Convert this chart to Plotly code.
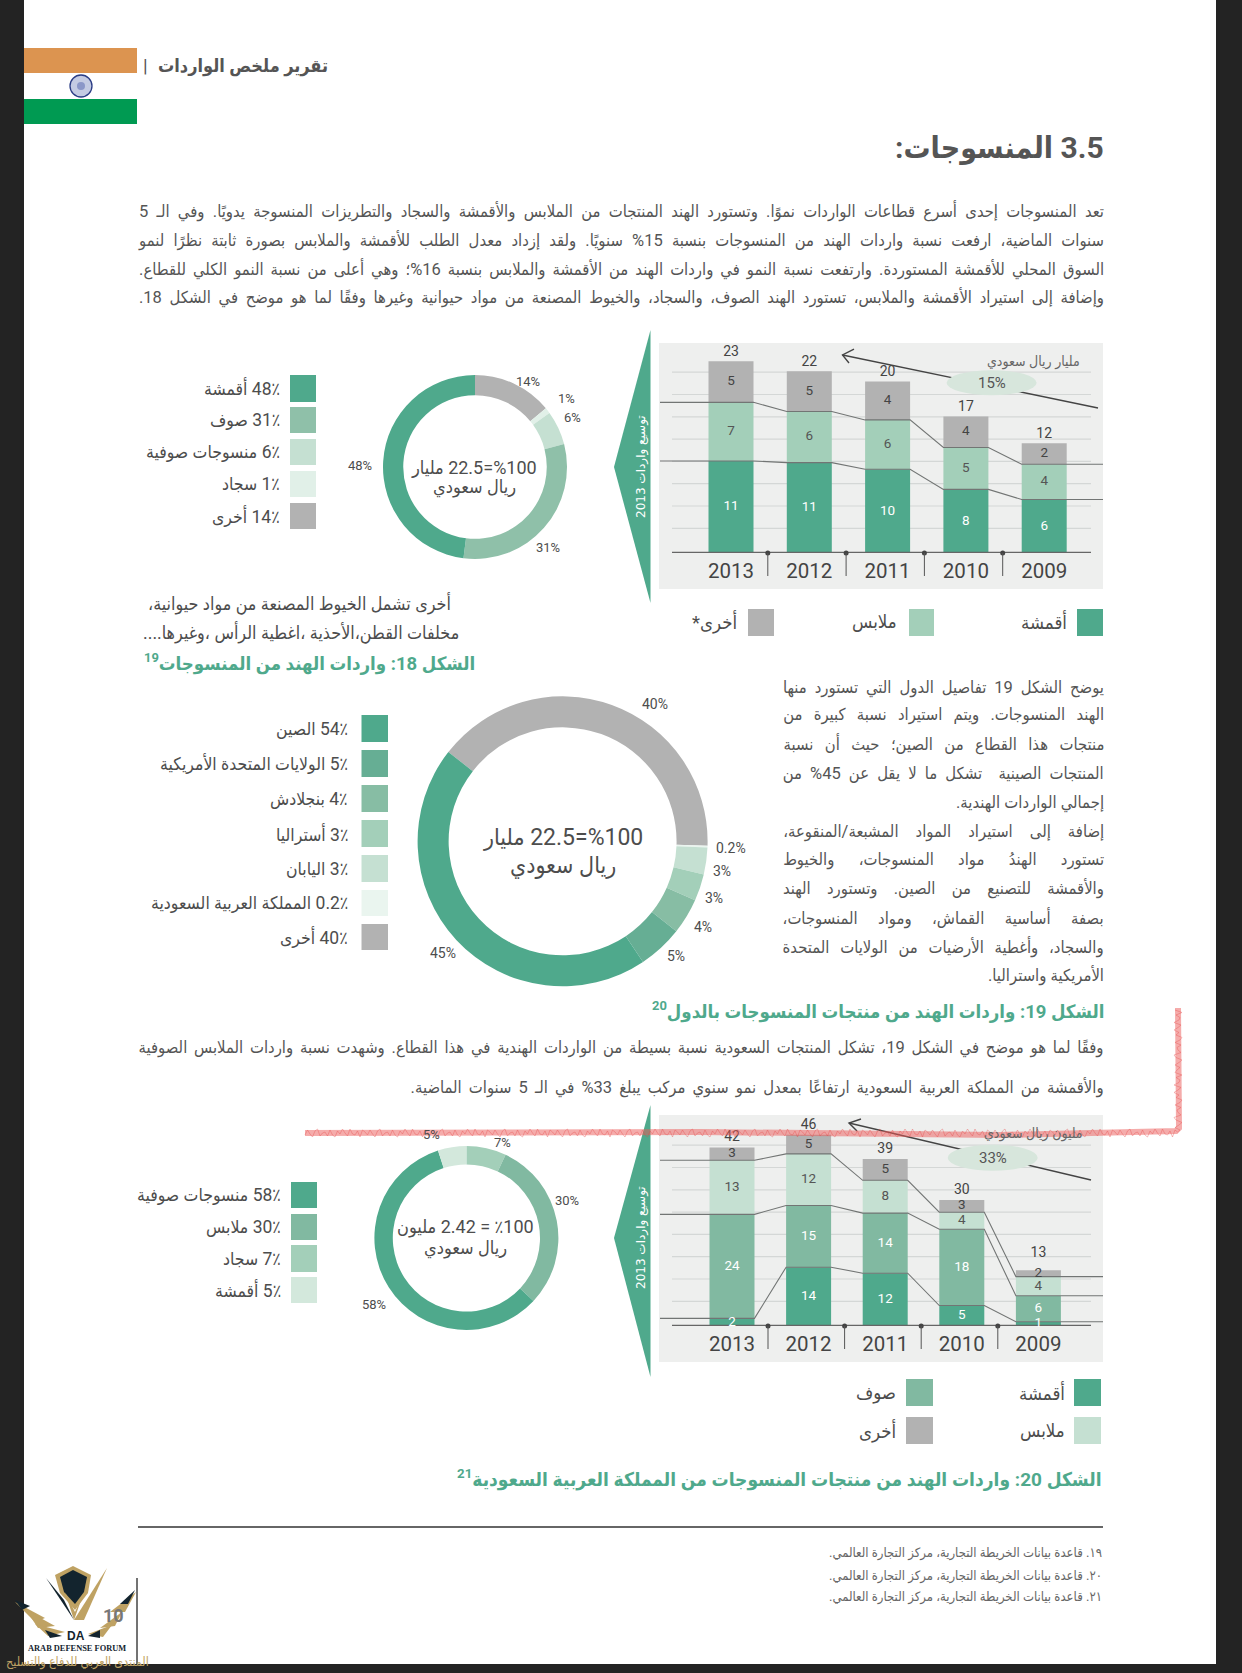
import json
import plotly.graph_objects as go

W, H = 1242, 1673
BODY = "Roboto, DejaVu Sans Condensed, DejaVu Sans"
NARROW = "Roboto, DejaVu Sans Condensed"
DARK, MID, LIGHT, GREY = "#4fa98c", "#a3cfb9", "#c5e0d2", "#b2b2b2"
MID2 = "#81b9a1"
TXT = "#4d4d4d"

# ---------- data ----------
years = ["2013", "2012", "2011", "2010", "2009"]

c18_fabric = [11.0, 10.8, 10.0, 7.6, 6.4]
c18_clothes = [7.0, 6.1, 5.9, 5.0, 4.2]
c18_other = [4.9, 4.8, 4.6, 3.7, 2.5]
c18_fabric_lbl = ["11", "11", "10", "8", "6"]
c18_clothes_lbl = ["7", "6", "6", "5", "4"]
c18_other_lbl = ["5", "5", "4", "4", "2"]
c18_total_lbl = ["23", "22", "20", "17", "12"]
c18_label_lift = [0.2, 0.2, 0.2, 0.2, 0.2]

c20_fabric = [1.8, 13.8, 12.4, 4.8, 1.0]
c20_wool = [24.4, 14.5, 14.1, 17.9, 6.1]
c20_clothes = [12.7, 12.1, 7.7, 4.0, 4.5]
c20_other = [3.0, 4.5, 5.0, 2.9, 1.5]
c20_fabric_lbl = ["2", "14", "12", "5", "1"]
c20_wool_lbl = ["24", "15", "14", "18", "6"]
c20_clothes_lbl = ["13", "12", "8", "4", "4"]
c20_other_lbl = ["3", "5", "5", "3", "2"]
c20_total_lbl = ["42", "46", "39", "30", "13"]
c20_label_lift = [0.6, 0.6, 0.6, 0.6, 2.2]

p1_values = [14, 1, 6, 31, 48]
p1_colors = [GREY, "#e1f0e8", LIGHT, "#8fc0a9", DARK]
p1_labels = ["14%", "1%", "6%", "31%", "48%"]
p2_values = [40, 0.2, 3, 3, 4, 5, 45]
p2_colors = [GREY, "#eaf5ef", LIGHT, MID, "#87bda4", "#66ae94", DARK]
p2_labels = ["40%", "0.2%", "3%", "3%", "4%", "5%", "45%"]
p3_values = [7, 30, 58, 5]
p3_colors = [MID, MID2, DARK, "#d3e8dc"]
p3_labels = ["7%", "30%", "58%", "5%"]

leg1_text = ["48٪ أقمشة", "31٪ صوف", "6٪ منسوجات صوفية", "1٪ سجاد", "14٪ أخرى"]
leg1_colors = [DARK, "#8fc0a9", LIGHT, "#e1f0e8", GREY]
leg2_text = ["54٪ الصين", "5٪ الولايات المتحدة الأمريكية", "4٪ بنجلادش", "3٪ أستراليا", "3٪ اليابان",
             "0.2٪ المملكة العربية السعودية", "40٪ أخرى"]
leg2_colors = [DARK, "#66ae94", "#87bda4", MID, LIGHT, "#eaf5ef", GREY]
leg3_text = ["58٪ منسوجات صوفية", "30٪ ملابس", "7٪ سجاد", "5٪ أقمشة"]
leg3_colors = [DARK, MID2, MID, "#d3e8dc"]

para1 = [
    "تعد المنسوجات إحدى أسرع قطاعات الواردات نموًا. وتستورد الهند المنتجات من الملابس والأقمشة والسجاد والتطريزات المنسوجة يدويًا. وفي الـ 5",
    "سنوات الماضية، ارفعت نسبة واردات الهند من المنسوجات بنسبة 15% سنويًا. ولقد إزداد معدل الطلب للأقمشة والملابس بصورة ثابتة نظرًا لنمو",
    "السوق المحلي للأقمشة المستوردة. وارتفعت نسبة النمو في واردات الهند من الأقمشة والملابس بنسبة 16%؛ وهي أعلى من نسبة النمو الكلي للقطاع.",
    "وإضافة إلى استيراد الأقمشة والملابس، تستورد الهند الصوف، والسجاد، والخيوط المصنعة من مواد حيوانية وغيرها وفقًا لما هو موضح في الشكل 18.",
]
para2 = [
    "يوضح الشكل 19 تفاصيل الدول التي تستورد منها",
    "الهند المنسوجات. ويتم استيراد نسبة كبيرة من",
    "منتجات هذا القطاع من الصين؛ حيث أن نسبة",
    "المنتجات الصينية  تشكل ما لا يقل عن 45% من",
    "إجمالي الواردات الهندية.",
    "إضافة إلى استيراد المواد المشبعة/المنقوعة،",
    "تستورد الهندُ مواد المنسوجات، والخيوط",
    "والأقمشة للتصنيع من الصين. وتستورد الهند",
    "بصفة أساسية القماش، ومواد المنسوجات،",
    "والسجاد، وأغطية الأرضيات من الولايات المتحدة",
    "الأمريكية واستراليا.",
]
para3 = [
    "وفقًا لما هو موضح في الشكل 19، تشكل المنتجات السعودية نسبة بسيطة من الواردات الهندية في هذا القطاع. وشهدت نسبة واردات الملابس الصوفية",
    "والأقمشة من المملكة العربية السعودية ارتفاعًا بمعدل نمو سنوي مركب يبلغ 33% في الـ 5 سنوات الماضية.",
]
footnotes = ["١٩. قاعدة بيانات الخريطة التجارية، مركز التجارة العالمي.",
             "٢٠. قاعدة بيانات الخريطة التجارية، مركز التجارة العالمي.",
             "٢١. قاعدة بيانات الخريطة التجارية، مركز التجارة العالمي."]


# ---------- helpers ----------
def px(x): return x / W
def py(y): return 1 - y / H
def path(points, close=True):
    s = "M " + " L ".join(f"{px(x):.5f},{py(y):.5f}" for x, y in points)
    return s + (" Z" if close else "")


shapes, notes, fits = [], [], []


def rect(x0, y0, x1, y1, color, layer="below"):
    shapes.append(dict(type="rect", xref="paper", yref="paper", x0=px(x0), x1=px(x1), y0=py(y0), y1=py(y1),
                       fillcolor=color, line=dict(width=0), layer=layer))


def poly(points, color, layer="below"):
    shapes.append(dict(type="path", xref="paper", yref="paper", path=path(points), fillcolor=color,
                       line=dict(width=0), layer=layer))


def stroke(points, color, width, layer="above"):
    shapes.append(dict(type="path", xref="paper", yref="paper", path=path(points, False),
                       line=dict(color=color, width=width), layer=layer))


def oval(cx, cy, rx, ry, fill, line=None, lw=0, layer="above"):
    shapes.append(dict(type="circle", xref="paper", yref="paper", x0=px(cx - rx), x1=px(cx + rx),
                       y0=py(cy + ry), y1=py(cy - ry), fillcolor=fill,
                       line=dict(color=line or fill, width=lw), layer=layer))


def T(x, y, s, size=14, color=TXT, anchor="right", family=BODY, bold=False, angle=0, rtl=True, fit=None):
    if rtl:
        s = "\u202b" + s + "\u202c"
    if bold:
        s = "<b>" + s + "</b>"
    if anchor == "right":
        x += 2.5
    notes.append(dict(xref="paper", yref="paper", x=px(x), y=py(y), text=s, showarrow=False, xanchor=anchor,
                      yanchor="middle", textangle=angle, font=dict(size=size, color=color, family=family)))
    if fit:
        fits.append([len(notes) - 1, fit])


# ---------- page ----------
rect(24, 0, 1216, 1664, "#ffffff")
rect(24, 48, 137, 73, "#dc9450")
rect(24, 99, 137, 124, "#009a52")
oval(81, 86, 11, 11, "#c4cbe3", "#2b3d85", 1.3, "below")
oval(81, 86, 4, 4, "#8b97c8", None, 0, "below")
T(327, 66, "تقرير ملخص الواردات", 18, "#555", bold=True)
T(145, 66, "|", 19, "#555", anchor="center", rtl=False)
T(1103, 148, "3.5 المنسوجات:", 30, "#555", bold=True)

for y, line in zip([211, 241, 269, 298], para1):
    T(1103, y, line, 16.5, "#555", fit=965)

# ---------- legends ----------
for (y0, y1), t, c in zip([(375, 402), (407, 433), (439, 465), (471, 497), (503, 529)], leg1_text, leg1_colors):
    rect(290, y0, 316, y1, c)
    T(279, (y0 + y1) / 2, t, 17.5)
for (y0, y1), t, c in zip([(715, 742), (750, 777), (785, 812), (820, 847), (855, 882), (890, 916), (924, 950)],
                          leg2_text, leg2_colors):
    rect(361.5, y0, 388, y1, c)
    T(348, (y0 + y1) / 2, t, 17.5)
for (y0, y1), t, c in zip([(1182, 1208), (1214, 1240), (1245, 1272), (1277, 1303)], leg3_text, leg3_colors):
    rect(291, y0, 317, y1, c)
    T(280, (y0 + y1) / 2, t, 17.5)

for x0, x1, tr, t, c in [(1077, 1103, 1066, "أقمشة", DARK), (909, 934, 896, "ملابس", MID), (748, 774, 736, "أخرى*", GREY)]:
    rect(x0, 609, x1, 636, c)
    T(tr, 622, t, 18.5)
for x0, x1, y0, tr, t, c in [(1074, 1101, 1379, 1064, "أقمشة", DARK), (906, 933, 1379, 895, "صوف", MID2),
                             (1074, 1101, 1417, 1064, "ملابس", LIGHT), (906, 933, 1417, 895, "أخرى", GREY)]:
    rect(x0, y0, x1, y0 + 27, c)
    T(tr, y0 + 14, t, 18.5)

# ---------- texts ----------
T(450, 603, "أخرى تشمل الخيوط المصنعة من مواد حيوانية،", 17.8)
T(458, 632, "مخلفات القطن،الأحذية ،اغطية الرأس ،وغيرها....", 17.8)
T(474.5, 663, "الشكل 18: واردات الهند من المنسوجات<sup>19</sup>", 18.5, DARK, bold=True)
for i, (y, line) in enumerate(zip([688, 715, 744, 773, 803, 832, 860, 888, 918, 947, 975], para2)):
    T(1103, y, line, 16.5, "#555", fit=None if i in (4, 10) else 321)
T(1103, 1010, "الشكل 19: واردات الهند من منتجات المنسوجات بالدول<sup>20</sup>", 18.5, DARK, bold=True)
for y, line, target in zip([1048, 1087], para3, [965, 693]):
    T(1103, y, line, 16.5, "#555", fit=target)
T(1101, 1478, "الشكل 20: واردات الهند من منتجات المنسوجات من المملكة العربية السعودية<sup>21</sup>", 19, DARK, bold=True)
stroke([(138, 1527), (1103, 1527)], "#666", 2, "below")
for y, line in zip([1553, 1576, 1597], footnotes):
    T(1101, y, line, 13, "#666")

# pie centres and labels
T(474.5, 467, "%100=22.5 مليار", 18, anchor="center")
T(474.5, 487, "ريال سعودي", 18, anchor="center")
T(562.6, 838, "%100=22.5 مليار", 23, anchor="center")
T(562.6, 865, "ريال سعودي", 23, anchor="center")
T(465, 1227, "٪100 = 2.42 مليون", 18, anchor="center")
T(465, 1248, "ريال سعودي", 18, anchor="center")
for (x, y), t in zip([(528, 382), (566.5, 398), (572.4, 418), (548, 547), (360, 465)], p1_labels):
    T(x, y, t, 13, anchor="center", family=NARROW, rtl=False)
for (x, y), t in zip([(655, 704), (731, 848), (721.5, 871), (713.7, 898), (703, 927), (675.6, 956), (443, 953)], p2_labels):
    T(x, y, t, 14, anchor="center", family=NARROW, rtl=False)
for (x, y), t in zip([(502.5, 1142), (567, 1200), (373.5, 1304), (431, 1134)], p3_labels):
    T(x, y, t, 13, anchor="center", family=NARROW, rtl=False)

# ---------- chart panels ----------
for top, bot, ptop, pbot, apex in [(330, 603, 343, 589, 467), (1105, 1377, 1115, 1362, 1238)]:
    rect(659, ptop, 1103, pbot, "#eeefee")
    poly([(614, apex), (650.5, top), (650.5, bot)], DARK)
    T(641, apex, "توسيع واردات 2013", 12, "#ffffff", anchor="center", angle=-90, family="DejaVu Sans")

for tip, end, elc, ery, head, label, unit_x, unit_y, unit in [
    ((842.5, 355), (1098, 408), (991.6, 382.7), 12.5, [(854, 349), (849, 363)], "15%", 1079, 361, "مليار ريال سعودي"),
    ((849, 1123), (1091, 1180), (992.7, 1157.7), 13, [(861, 1119), (857, 1131)], "33%", 1082, 1133, "مليون ريال سعودي"),
]:
    stroke([tip, end], "#444", 1.4)
    stroke([head[0], tip, head[1]], "#444", 1.4)
    oval(elc[0], elc[1], 45, ery, "#d7e6dc")
    T(elc[0], elc[1], label, 15, "#555", anchor="center", family=NARROW, rtl=False)
    T(unit_x, unit_y, unit, 14, "#666")


# ---------- bar charts ----------
fig = go.Figure()


def chart(suffix, x0px, x_step, scale, base_px, series, colors, series_lbl, lbl_colors, totals_lbl, lift, connect):
    xa, ya = "x" + suffix, "y" + suffix
    xs = list(range(len(years)))
    bw = 45 / x_step
    left, right = 660, 1103
    lo, hi = (left - x0px) / x_step, (right - x0px) / x_step
    line_lo, line_hi = (672 - x0px) / x_step, (1091 - x0px) / x_step
    top_px = base_px - 215
    yr = [0, 215 / scale]

    for k in range(8):
        v = (24.7 + 22.3 * k) / scale
        shapes.append(dict(type="line", xref="paper", yref=ya, x0=px(672), x1=px(1091), y0=v, y1=v,
                           line=dict(color="#d4d7d6", width=1.2), layer="below"))

    bottoms = [0] * len(xs)
    cums = []
    for vals, col in zip(series, colors):
        fig.add_trace(go.Bar(x=xs, y=vals, base=bottoms, width=bw, marker=dict(color=col, line=dict(width=0)),
                             xaxis=xa, yaxis=ya, showlegend=False, hoverinfo="skip"))
        mids = [b + v / 2 for b, v in zip(bottoms, vals)]
        bottoms = [b + v for b, v in zip(bottoms, vals)]
        cums.append((list(bottoms), mids))

    for k in range(connect):
        cx, cy = [lo], [cums[k][0][0]]
        for i in xs:
            cx += [i - bw / 2, i + bw / 2]
            cy += [cums[k][0][i], cums[k][0][i]]
        cx.append(hi)
        cy.append(cums[k][0][-1])
        fig.add_trace(go.Scatter(x=cx, y=cy, mode="lines", line=dict(color="#727574", width=1.1), cliponaxis=False,
                                 xaxis=xa, yaxis=ya, showlegend=False, hoverinfo="skip"))

    fig.add_trace(go.Scatter(x=[line_lo, line_hi], y=[0, 0], mode="lines", line=dict(color="#666", width=2.4),
                             cliponaxis=False, xaxis=xa, yaxis=ya, showlegend=False, hoverinfo="skip"))

    for (cum, mids), lbl, lc in zip(cums, series_lbl, lbl_colors):
        fig.add_trace(go.Scatter(x=xs, y=mids, mode="text", text=lbl, textposition="middle center", cliponaxis=False,
                                 textfont=dict(family=NARROW, size=13.5, color=lc),
                                 xaxis=xa, yaxis=ya, showlegend=False, hoverinfo="skip"))
    fig.add_trace(go.Scatter(x=xs, y=[b + d for b, d in zip(bottoms, lift)], mode="text", text=totals_lbl,
                             textposition="top center", cliponaxis=False,
                             textfont=dict(family=NARROW, size=14, color="#444"),
                             xaxis=xa, yaxis=ya, showlegend=False, hoverinfo="skip"))

    seps = [i + 0.47 for i in xs[:-1]]
    for m in seps:
        shapes.append(dict(type="line", xref=xa, yref="paper", x0=m, x1=m, y0=py(base_px), y1=py(base_px + 23),
                           line=dict(color="#555", width=1), layer="above"))
    fig.add_trace(go.Scatter(x=seps, y=[0] * 4, mode="markers", cliponaxis=False,
                             marker=dict(color="#444", size=5), xaxis=xa, yaxis=ya, showlegend=False, hoverinfo="skip"))

    xkey, ykey = "xaxis" + suffix, "yaxis" + suffix
    fig.update_layout({
        xkey: dict(domain=[px(left), px(right)], range=[lo, hi], anchor=ya, tickmode="array", tickvals=xs,
                   ticktext=years, tickfont=dict(family=NARROW, size=20.5, color="#444"), ticks="", showgrid=False,
                   ticklabelstandoff=3, zeroline=False, showline=False, fixedrange=True),
        ykey: dict(domain=[py(base_px), py(top_px)], range=yr, anchor=xa, showticklabels=False, ticks="",
                   showgrid=False, zeroline=False, showline=False, fixedrange=True),
    })


chart("", 731, 78.3, 8.37, 553, [c18_fabric, c18_clothes, c18_other], [DARK, MID, GREY],
      [c18_fabric_lbl, c18_clothes_lbl, c18_other_lbl], ["#ffffff", "#555", "#444"], c18_total_lbl, c18_label_lift, 2)
chart("2", 732, 76.6, 4.26, 1326, [c20_fabric, c20_wool, c20_clothes, c20_other], [DARK, MID2, LIGHT, GREY],
      [c20_fabric_lbl, c20_wool_lbl, c20_clothes_lbl, c20_other_lbl], ["#ffffff", "#ffffff", "#555", "#444"],
      c20_total_lbl, c20_label_lift, 3)


# ---------- donuts ----------
def donut(cx, cy, r, hole, values, colors, rotation=0):
    fig.add_trace(go.Pie(values=values, marker=dict(colors=colors, line=dict(width=0)), hole=hole, sort=False,
                         direction="clockwise", rotation=rotation, textinfo="none", showlegend=False,
                         hoverinfo="skip",
                         domain=dict(x=[px(cx - r), px(cx + r)], y=[py(cy + r), py(cy - r)])))


donut(475, 467, 92, 0.78, p1_values, p1_colors)
donut(562.6, 841.3, 145, 0.786, p2_values, p2_colors, rotation=-52)
donut(466.4, 1238, 92, 0.80, p3_values, p3_colors)

# ---------- red pen mark (a rough hand-drawn stroke) ----------
RED_SOFT = "rgba(236,90,88,0.5)"
RED = "rgba(230,70,70,0.35)"
wiggle = [2, -3, 1, 4, -2, -4, 3, 0, -1, 3, -3, 2, 4, -2, 1, -4, 0, 3, -4, 1, 2, -2, 4, -3, -1]
stroke([(305, 1133), (700, 1132), (1000, 1135), (1176, 1131), (1179, 1128), (1178, 1008)], RED_SOFT, 6)
h_pts = [(305 + 2.5 * k, 1133 + wiggle[k % 25]) for k in range(350)]
v_pts = [(1178 + wiggle[k % 25], 1130 - 2.5 * k) for k in range(49)]
stroke(h_pts + v_pts, RED, 1)

# ---------- forum logo ----------
GOLD = "#bfa263"
NAVY = "#13242e"
stroke([(137, 1578), (137, 1664)], "#444", 1.5, "below")
poly([(55, 1575), (73, 1566), (91, 1575), (88, 1593), (75, 1610), (60, 1593)], GOLD, "above")
poly([(60, 1577), (73, 1570), (87, 1577), (84, 1592), (75, 1604), (64, 1592)], NAVY, "above")
poly([(74, 1620), (107, 1568), (84, 1620)], GOLD, "above")
poly([(74, 1620), (46, 1578), (64, 1600)], NAVY, "above")
poly([(65, 1592), (74, 1620), (84, 1592), (75, 1612)], GOLD, "above")
for pts, c in [
    ([(15, 1602), (45, 1618), (35, 1622)], GOLD), ([(26, 1610), (55, 1626), (38, 1628)], GOLD),
    ([(35, 1624), (65, 1632), (48, 1636)], GOLD), ([(136, 1592), (110, 1612), (125, 1612)], GOLD),
    ([(122, 1612), (100, 1628), (115, 1626)], GOLD), ([(112, 1625), (88, 1634), (103, 1637)], GOLD),
    ([(15, 1600), (30, 1606), (22, 1610)], NAVY), ([(45, 1630), (62, 1636), (50, 1638)], NAVY),
    ([(135, 1590), (120, 1604), (128, 1604)], NAVY), ([(100, 1630), (88, 1636), (100, 1638)], NAVY),
]:
    poly(pts, c, "above")
T(113, 1615, "10", 18, "#777", anchor="center", family=NARROW, rtl=False, bold=True)
T(76, 1636, "DA", 12, NAVY, anchor="center", family="Liberation Sans", rtl=False, bold=True)
T(77, 1648, "ARAB DEFENSE FORUM", 8.4, NAVY, anchor="center", family="Liberation Serif", rtl=False, bold=True)
T(77, 1662, "المنتدى العربي للدفاع والتسليح", 12.5, GOLD, anchor="center")

fig.update_layout(width=W, height=H, margin=dict(l=0, r=0, t=0, b=0, pad=0), autosize=False,
                  paper_bgcolor="#232323", plot_bgcolor="rgba(0,0,0,0)", barmode="overlay",
                  shapes=shapes, annotations=notes, showlegend=False, font=dict(family=BODY))

# justified lines of the page: open the word gaps until each line reaches the column width
post = """
document.body.style.margin='0';document.body.style.background='#232323';
var FITS=%s;
function fitLines(){
  FITS.forEach(function(f){
    var g=document.querySelector('g.annotation[data-index="'+f[0]+'"] text.annotation-text');
    if(!g||g.dataset.fitted)return;
    var len=g.getComputedTextLength();
    var n=g.textContent.split(' ').length-1;
    if(!len||!n)return;
    g.style.wordSpacing=((f[1]-len)/n)+'px';
    g.setAttribute('x',parseFloat(g.getAttribute('x'))-(f[1]-len)/2);
    g.dataset.fitted='1';
  });
}
fitLines();[50,200,600,1200].forEach(function(t){setTimeout(fitLines,t);});
""" % json.dumps(fits)

fig.write_html("out.html", config={"displayModeBar": False}, post_script=post)
